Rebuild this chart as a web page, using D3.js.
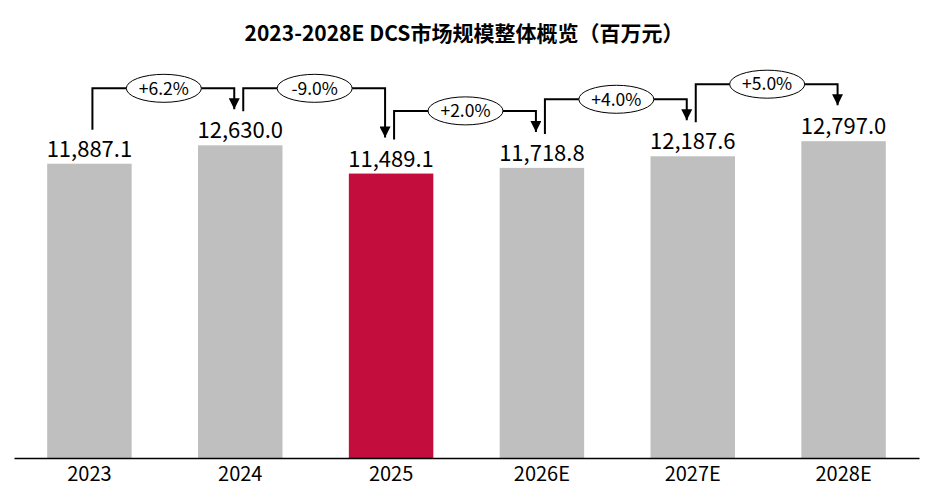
<!DOCTYPE html>
<html lang="zh">
<head>
<meta charset="UTF-8">
<title>DCS市场规模</title>
<style>
  body { margin: 0; background: #fff; }
  text { font-family: "Noto Sans CJK SC", "Noto Sans", sans-serif; }
</style>
</head>
<body>
<svg width="939" height="501"></svg>
<script src="https://cdn.jsdelivr.net/npm/d3@7/dist/d3.min.js"></script>
<script>
  var years = ['2023', '2024', '2025', '2026E', '2027E', '2028E'];
  var values = [11887.1, 12630.0, 11489.1, 11718.8, 12187.6, 12797.0];
  var growth = ['+6.2%', '-9.0%', '+2.0%', '+4.0%', '+5.0%'];
  var highlight = '2025';

  var svg = d3.select('svg');
  var baseY = 458;

  var x = d3.scaleBand().domain(years).range([14, 919]).paddingInner(0.44).paddingOuter(0.22);
  var y = d3.scaleLinear().domain([0, 18500]).range([baseY, 0]);

  // 标题
  svg.append('text').attr('x', 464).attr('y', 41).attr('text-anchor', 'middle')
    .attr('font-size', 21).attr('font-weight', 'bold').attr('fill', '#000')
    .text('2023-2028E DCS市场规模整体概览（百万元）');

  // 柱子
  svg.selectAll('rect.bar').data(years).enter().append('rect')
    .attr('class', 'bar')
    .attr('x', function (d) { return x(d); })
    .attr('y', function (d, i) { return y(values[i]); })
    .attr('width', x.bandwidth())
    .attr('height', function (d, i) { return baseY - y(values[i]); })
    .attr('fill', function (d) { return d === highlight ? '#c30d3c' : '#bfbfbf'; });

  // x轴
  var xAxis = d3.axisBottom(x).tickSize(0).tickPadding(9);
  var ga = svg.append('g').attr('transform', 'translate(0,' + baseY + ')').call(xAxis);
  ga.select('.domain').attr('stroke', '#000').attr('stroke-width', 1.5);
  ga.selectAll('text').attr('font-size', 20).attr('fill', '#000')
    .style('font-family', '"Noto Sans CJK SC", sans-serif');

  // 数值标签
  var fmt = d3.format(',.1f');
  svg.selectAll('text.val').data(years).enter().append('text')
    .attr('class', 'val')
    .attr('x', function (d) { return x(d) + x.bandwidth() / 2; })
    .attr('y', function (d, i) { return y(values[i]) - 7; })
    .attr('text-anchor', 'middle').attr('font-size', 22).attr('fill', '#000')
    .text(function (d, i) { return fmt(values[i]); });

  // 箭头
  svg.append('defs').append('marker')
    .attr('id', 'arr').attr('viewBox', '0 0 10 10')
    .attr('refX', 10).attr('refY', 5)
    .attr('markerWidth', 6).attr('markerHeight', 5.5)
    .attr('markerUnits', 'strokeWidth').attr('orient', 'auto')
    .append('path').attr('d', 'M0,0L10,5L0,10Z').attr('fill', '#000');

  function labelTop(i) { return y(values[i]) - 24; }

  var gs = svg.selectAll('g.growth').data(growth).enter().append('g').attr('class', 'growth');
  gs.append('path')
    .attr('d', function (d, i) {
      var x0 = x(years[i]) + x.bandwidth() / 2 + 3;
      var x1 = x(years[i + 1]) + x.bandwidth() / 2 - 6;
      var yh = Math.min(labelTop(i), labelTop(i + 1)) - 33;
      return 'M' + x0 + ',' + (labelTop(i) - 10) + 'V' + yh + 'H' + x1 + 'V' + (labelTop(i + 1) - 12);
    })
    .attr('fill', 'none').attr('stroke', '#000').attr('stroke-width', 2)
    .attr('marker-end', 'url(#arr)');

  gs.append('ellipse')
    .attr('cx', function (d, i) { return (x(years[i]) + x(years[i + 1])) / 2 + x.bandwidth() / 2 - 1; })
    .attr('cy', function (d, i) { return Math.min(labelTop(i), labelTop(i + 1)) - 33; })
    .attr('rx', 37.5).attr('ry', 14)
    .attr('fill', '#fff').attr('stroke', '#000').attr('stroke-width', 1);

  gs.append('text')
    .attr('x', function (d, i) { return (x(years[i]) + x(years[i + 1])) / 2 + x.bandwidth() / 2 - 1; })
    .attr('y', function (d, i) { return Math.min(labelTop(i), labelTop(i + 1)) - 33; })
    .attr('dy', '0.36em').attr('text-anchor', 'middle')
    .attr('font-size', 17.5).attr('fill', '#000')
    .text(function (d) { return d; });
</script>
</body>
</html>
